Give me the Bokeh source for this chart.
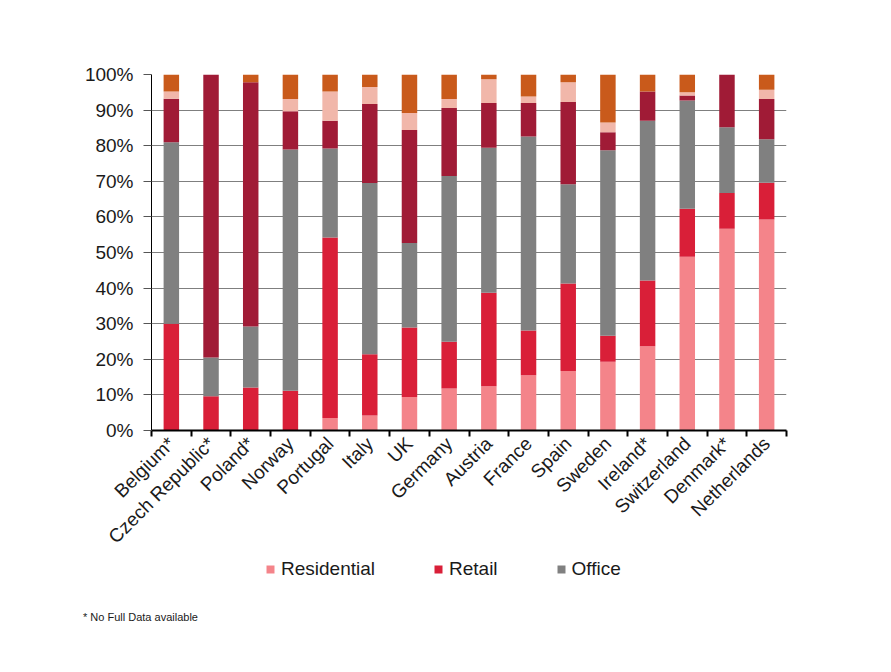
from bokeh.plotting import figure
from bokeh.layouts import column
from bokeh.models import (FixedTicker, Legend, LegendItem, ColumnDataSource, Range1d, Div)
from bokeh.embed import file_html
from bokeh.resources import INLINE

countries = ["Belgium*", "Czech Republic*", "Poland*", "Norway", "Portugal", "Italy",
             "UK", "Germany", "Austria", "France", "Spain", "Sweden", "Ireland*",
             "Switzerland", "Denmark*", "Netherlands"]
residential = [0, 0, 0, 0, 3.5, 4.2, 9.4, 11.8, 12.4, 15.5, 16.7, 19.3, 23.7, 48.8, 56.7, 59.3]
retail      = [30.0, 9.6, 12.1, 11.2, 50.7, 17.2, 19.5, 13.1, 26.3, 12.6, 24.6, 7.3, 18.4, 13.5, 10.0, 10.3]
office      = [51.0, 10.9, 17.1, 67.7, 25.0, 48.1, 23.8, 46.6, 40.7, 54.5, 27.9, 52.1, 44.9, 30.4, 18.5, 12.2]
seg_dark    = [12.2, 79.5, 68.6, 10.8, 7.8, 22.2, 31.7, 19.1, 12.6, 9.4, 23.1, 5.1, 8.2, 1.4, 14.8, 11.3]
seg_light   = [2.0, 0, 0, 3.4, 8.2, 4.8, 4.8, 2.5, 6.7, 1.8, 5.5, 2.7, 0, 0.9, 0, 2.6]
seg_orange  = [4.9, 0, 2.2, 6.9, 4.8, 3.5, 10.8, 6.9, 1.3, 6.2, 2.2, 13.5, 4.8, 5.0, 0, 4.3]
y_ticks = [0, 10, 20, 30, 40, 50, 60, 70, 80, 90, 100]
y_tick_labels = ["0%", "10%", "20%", "30%", "40%", "50%", "60%", "70%", "80%", "90%", "100%"]
legend_labels = ["Residential", "Retail", "Office"]
footnote = "* No Full Data available"

keys = ["residential", "retail", "office", "seg_dark", "seg_light", "seg_orange"]
colors = ["#F4848A", "#D91F38", "#808080", "#A01B36", "#F1B7AA", "#C95A1B"]

n = len(countries)
centers = [i + 0.5 for i in range(n)]
src = ColumnDataSource(dict(x=centers, residential=residential, retail=retail, office=office,
                            seg_dark=seg_dark, seg_light=seg_light, seg_orange=seg_orange))

FONT = "Liberation Sans"
TEXT = "#1a1a1a"
H1 = 557
p = figure(width=891, height=H1, output_backend="svg", toolbar_location=None,
           x_range=(0, n), y_range=(0, 100),
           min_border_left=151, min_border_right=105, min_border_top=74,
           min_border_bottom=H1 - 431)
p.outline_line_color = None
p.background_fill_color = "white"
p.border_fill_color = "white"

renderers = p.vbar_stack(keys, x="x", width=0.39, source=src, color=colors, line_color=None)

# y axis
p.yaxis.ticker = FixedTicker(ticks=y_ticks)
p.yaxis.major_label_overrides = {t: l for t, l in zip(y_ticks, y_tick_labels)}
p.yaxis.axis_line_color = "black"
p.yaxis.major_tick_line_color = "#555555"
p.yaxis.major_tick_out = 8
p.yaxis.major_tick_in = 0
p.yaxis.minor_tick_line_color = None
p.yaxis.major_label_text_font = FONT
p.yaxis.major_label_text_font_size = "19px"
p.yaxis.major_label_text_color = TEXT
p.yaxis.major_label_standoff = 10

# x axis
p.xaxis.ticker = FixedTicker(ticks=centers, minor_ticks=list(range(n + 1)))
p.xaxis.major_label_overrides = {c: name for c, name in zip(centers, countries)}
p.xaxis.major_tick_line_color = None
p.xaxis.minor_tick_line_color = "black"
p.xaxis.minor_tick_line_width = 2
p.xaxis.minor_tick_out = 6
p.xaxis.minor_tick_in = 0
p.xaxis.axis_line_color = "black"
p.xaxis.axis_line_width = 2
p.xaxis.major_label_orientation = 0.785398
p.xaxis.major_label_text_font = FONT
p.xaxis.major_label_text_font_size = "19px"
p.xaxis.major_label_text_color = TEXT
p.xaxis.major_label_standoff = 4

p.xgrid.grid_line_color = None
p.ygrid.ticker = FixedTicker(ticks=y_ticks)
p.ygrid.grid_line_color = "#7f7f7f"
p.ygrid.grid_line_width = 1

# legend strip (its frame is aligned with the main frame, left edge at x=151)
H2 = 43
p2 = figure(width=891, height=H2, output_backend="svg", toolbar_location=None,
            x_range=Range1d(0, 1), y_range=Range1d(0, 1),
            x_axis_location=None, y_axis_location=None, min_border=0,
            min_border_left=0, min_border_right=0, min_border_top=0, min_border_bottom=0)
p2.outline_line_color = None
p2.grid.visible = False

# proxy renderers (one off-range point each) that only supply the legend swatches
legend_renderers = [p2.vbar(x=[-5], top=[0], width=0.1, color=colors[i], line_color=None)
                    for i in range(3)]
legend = Legend(items=[LegendItem(label=legend_labels[i], renderers=[legend_renderers[i]])
                       for i in range(3)],
                orientation="horizontal", location=(114, H2 - 23),
                border_line_color=None, background_fill_alpha=0,
                label_text_font=FONT, label_text_font_size="19px", label_text_color=TEXT,
                glyph_width=10, glyph_height=10, spacing=58, label_standoff=6,
                padding=0, margin=0)
p2.add_layout(legend)

H3 = 672 - H1 - H2
note = Div(text=('<div style="padding:11px 0 0 83px; font-family:\'Liberation Sans\'; '
                 'font-size:11px; line-height:13px; color:#1a1a1a; white-space:nowrap">'
                 + footnote + '</div>'),
           width=891, height=H3, margin=0)

layout = column(p, p2, note, spacing=0)
open("out.html", "w").write(file_html(layout, INLINE))
